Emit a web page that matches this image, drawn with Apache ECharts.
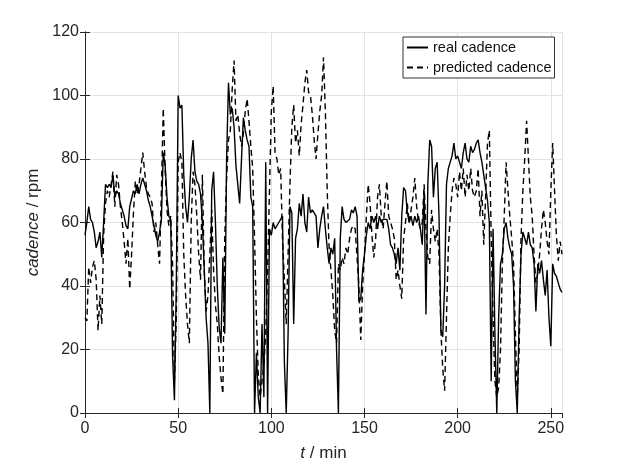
<!DOCTYPE html>
<html>
<head>
<meta charset="utf-8">
<script src="https://cdn.jsdelivr.net/npm/echarts@6/dist/echarts.min.js"></script>
<style>
html,body{margin:0;padding:0;background:#fff;}
#chart{width:640px;height:470px;}
</style>
</head>
<body>
<div id="chart"></div>
<script>
// real cadence, one value per minute (t = 0 .. 256 min)
const realCadence = [
56,60,65,61,60,57,52,54,57,49,60,72,71,72,71,75,68,70,69,66,
66,62,59,58,65,65,70,69,72,69,72,74,72,70,67,65,62,59,56,54,
57,61,82,78,68,62,61,18,4,40,100,96,97,75,65,60,68,80,86,76,
73,72,69,60,45,30,22,0,70,76,60,40,27,22,49,25,80,104,94,96,
90,78,72,66,80,93,89,86,84,68,65,0,19,5,0,28,5,79,0,58,
56,60,58,58,60,61,62,16,0,25,65,63,28,55,58,66,62,69,60,57,
68,63,64,64,62,52,58,62,65,58,52,47,52,50,55,20,0,55,65,61,
60,60,61,64,63,65,62,35,36,45,50,56,60,58,62,60,62,58,62,60,
61,61,61,58,53,52,50,47,52,45,62,71,70,63,60,62,59,62,60,62,
58,53,70,31,72,86,84,68,77,79,62,26,24,40,72,77,79,81,85,80,
81,79,77,82,85,80,79,84,82,83,85,86,82,79,75,71,67,60,10,58,
25,0,30,47,50,58,60,55,52,50,40,10,0,30,50,57,57,53,57,53,
52,47,32,47,44,48,42,37,45,30,21,47,44,43,41,39,38
];
// predicted cadence, one value per minute (t = 0 .. 256 min)
const predictedCadence = [
30,29,46,41,46,48,42,26,37,28,56,66,70,68,72,76,65,75,72,65,
60,54,47,55,39,50,63,73,69,72,77,82,76,71,69,68,66,57,60,53,
47,70,96,77,64,59,62,47,10,30,79,82,79,50,37,28,22,60,76,72,
62,50,42,75,45,32,37,50,64,45,34,28,18,11,6,55,74,86,89,102,
111,92,94,88,84,88,95,99,92,84,77,55,30,12,5,10,15,25,45,70,
95,103,82,80,75,77,55,42,28,50,72,90,97,85,89,81,91,97,104,108,
101,100,94,86,80,88,95,100,112,95,70,52,45,37,26,22,47,45,49,47,
52,50,55,58,59,58,58,40,23,40,50,62,72,66,56,49,55,68,72,62,
58,66,73,62,60,58,55,42,45,40,36,55,60,66,60,64,68,74,65,60,
58,60,72,58,49,47,64,58,54,58,50,26,14,7,30,52,62,70,74,72,
68,76,70,77,68,75,70,77,70,68,70,77,62,70,53,68,85,89,55,30,
10,5,8,20,47,62,79,70,62,55,47,25,5,20,55,70,80,92,80,68,
62,50,41,44,50,58,64,60,54,50,70,85,70,56,48,54,50
];
const minutes = realCadence.map((_, i) => i);
const seriesNames = ['real cadence', 'predicted cadence'];
const xTickStep = 50, xMax = 256;
const yTickStep = 20, yMax = 120;

const axisColor = '#262626';
const font = 'Liberation Sans, Arial, sans-serif';

const chart = echarts.init(document.getElementById('chart'), null, {renderer: 'canvas'});
const baseX = {
  type: 'value', min: 0, max: xMax, interval: xTickStep,
  axisLine: {show: true, lineStyle: {color: axisColor, width: 1}},
  axisTick: {show: true, inside: true, length: 5, lineStyle: {color: axisColor}},
};
const baseY = {
  type: 'value', min: 0, max: yMax, interval: yTickStep,
  axisLine: {show: true, lineStyle: {color: axisColor, width: 1}},
  axisTick: {show: true, inside: true, length: 5, lineStyle: {color: axisColor}},
};
chart.setOption({
  animation: false,
  backgroundColor: '#ffffff',
  grid: {left: 85, right: 78, top: 32, bottom: 57, containLabel: false},
  legend: {
    orient: 'vertical', left: 403, top: 37,
    data: seriesNames,
    itemWidth: 21, itemHeight: 14, itemGap: 5,
    padding: [3, 3, 3, 3],
    borderColor: '#333', borderWidth: 1, backgroundColor: '#fff',
    itemStyle: {opacity: 0},
    textStyle: {fontSize: 14.5, color: '#111', fontFamily: font},
    selectedMode: false
  },
  xAxis: [
    Object.assign({}, baseX, {
      position: 'bottom',
      name: '{i|t} / min', nameLocation: 'middle', nameGap: 32,
      nameTextStyle: {fontSize: 17, color: axisColor, fontFamily: font,
        rich: {i: {fontStyle: 'italic', fontSize: 17, color: axisColor, fontFamily: font}}},
      axisLabel: {fontSize: 16, color: axisColor, fontFamily: font, margin: 8, showMaxLabel: false},
      splitLine: {show: true, lineStyle: {color: '#e3e3e3', width: 1}}
    }),
    Object.assign({}, baseX, {
      position: 'top', axisLabel: {show: false}, splitLine: {show: false}
    })
  ],
  yAxis: [
    Object.assign({}, baseY, {
      position: 'left',
      name: '{i|cadence} / rpm', nameLocation: 'middle', nameGap: 36, nameRotate: 90,
      nameTextStyle: {fontSize: 17, color: axisColor, fontFamily: font,
        rich: {i: {fontStyle: 'italic', fontSize: 17, color: axisColor, fontFamily: font}}},
      axisLabel: {fontSize: 16, color: axisColor, fontFamily: font, margin: 6},
      splitLine: {show: true, lineStyle: {color: '#e3e3e3', width: 1}}
    }),
    Object.assign({}, baseY, {
      position: 'right', axisLabel: {show: false}, splitLine: {show: false}
    })
  ],
  series: [
    {
      name: seriesNames[0], type: 'line', xAxisIndex: 0, yAxisIndex: 0,
      data: minutes.map((t, i) => [t, realCadence[i]]),
      symbol: 'none', showSymbol: false,
      lineStyle: {color: '#000', width: 1.4, type: 'solid'},
      itemStyle: {color: '#000'}
    },
    {
      name: seriesNames[1], type: 'line', xAxisIndex: 0, yAxisIndex: 0,
      data: minutes.map((t, i) => [t, predictedCadence[i]]),
      symbol: 'none', showSymbol: false,
      lineStyle: {color: '#000', width: 1.4, type: [6, 4]},
      itemStyle: {color: '#000'}
    }
  ]
});
</script>
</body>
</html>
